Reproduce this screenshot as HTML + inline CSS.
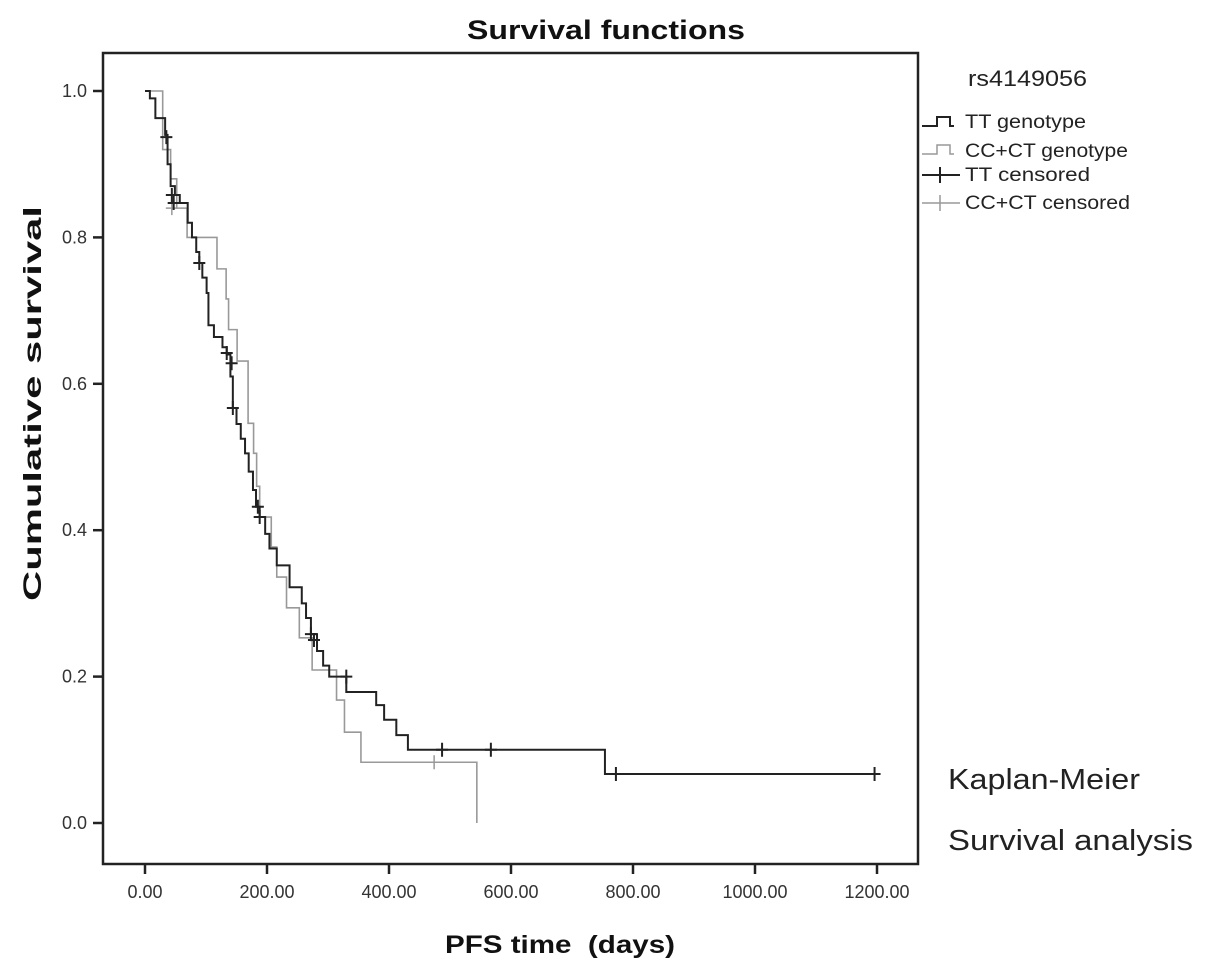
<!DOCTYPE html>
<html><head><meta charset="utf-8"><style>
body{margin:0;background:#fff;}
svg{display:block;font-family:"Liberation Sans",Arial,sans-serif;}
</style></head><body>
<svg id="chart" width="1205" height="969">
<text x="467" y="39" font-size="27" font-weight="bold" textLength="278" lengthAdjust="spacingAndGlyphs" fill="#111">Survival functions</text>
<rect x="103" y="53" width="815" height="811" fill="none" stroke="#222" stroke-width="2.5"/>
<g id="axes"></g>
<g id="series"></g>
<text x="0" y="0" font-size="25" font-weight="bold" fill="#111" textLength="395" lengthAdjust="spacingAndGlyphs" transform="translate(41 601) rotate(-90)">Cumulative survival</text>
<text x="445" y="953" font-size="25" font-weight="bold" fill="#111" textLength="230" lengthAdjust="spacingAndGlyphs" xml:space="preserve">PFS time  (days)</text>
<text x="968" y="86" font-size="22" fill="#222" textLength="119" lengthAdjust="spacingAndGlyphs">rs4149056</text>
<g><path d="M922 126 H937 V117 H950 V126 H954" fill="none" stroke="#222" stroke-width="2"/><text x="965" y="128" font-size="19" fill="#222" textLength="121" lengthAdjust="spacingAndGlyphs">TT genotype</text></g>
<g><path d="M922 154 H937 V145 H950 V154 H954" fill="none" stroke="#999" stroke-width="1.5"/><text x="965" y="157" font-size="19" fill="#222" textLength="163" lengthAdjust="spacingAndGlyphs">CC+CT genotype</text></g>
<g><path d="M922 175 H960 M940 167 V183" fill="none" stroke="#222" stroke-width="2"/><text x="965" y="181" font-size="19" fill="#222" textLength="125" lengthAdjust="spacingAndGlyphs">TT censored</text></g>
<g><path d="M922 203 H960 M940 195 V211" fill="none" stroke="#999" stroke-width="1.5"/><text x="965" y="209" font-size="19" fill="#222" textLength="165" lengthAdjust="spacingAndGlyphs">CC+CT censored</text></g>
<text x="948" y="789" font-size="29" fill="#222" textLength="192" lengthAdjust="spacingAndGlyphs">Kaplan-Meier</text>
<text x="948" y="850" font-size="29" fill="#222" textLength="245" lengthAdjust="spacingAndGlyphs">Survival analysis</text>
</svg>
<script>
const xTicks=[0,200,400,600,800,1000,1200];
const xTickLabels=["0.00","200.00","400.00","600.00","800.00","1000.00","1200.00"];
const yTicks=[0,0.2,0.4,0.6,0.8,1.0];
const yTickLabels=["0.0","0.2","0.4","0.6","0.8","1.0"];
const ttTimes=[0,8,17,33,37,42,49,57,70,77,84,89,94,101,104,113,127,134,140,144,150,157,164,170,177,182,188,197,204,216,237,257,264,272,282,292,302,330,379,392,412,431,754];
const ttSurv=[1.0,0.99,0.963,0.94,0.90,0.87,0.858,0.847,0.82,0.80,0.78,0.765,0.745,0.724,0.68,0.664,0.65,0.64,0.61,0.567,0.545,0.525,0.505,0.48,0.455,0.432,0.418,0.395,0.375,0.352,0.322,0.30,0.28,0.258,0.235,0.215,0.20,0.179,0.161,0.141,0.12,0.10,0.067];
const ttEnd=1196;
const ccTimes=[0,29,42,52,69,118,133,137,151,169,178,183,188,207,216,232,253,274,314,327,354,544];
const ccSurv=[1.0,0.92,0.88,0.84,0.80,0.757,0.716,0.674,0.631,0.546,0.505,0.46,0.418,0.377,0.336,0.294,0.253,0.209,0.168,0.124,0.083,0];
const ccEnd=544;
const ttCensTimes=[35,44,47,89,134,142,144,185,188,272,277,330,487,567,772,1196];
const ttCensSurv=[0.937,0.858,0.847,0.765,0.642,0.628,0.567,0.432,0.418,0.258,0.25,0.20,0.10,0.10,0.067,0.067];
const ccCensTimes=[44,474];
const ccCensSurv=[0.84,0.083];

const NS="http://www.w3.org/2000/svg";
const X=t=>145+t*0.61;
const Y=s=>823-s*732;
const axes=document.getElementById('axes');
const series=document.getElementById('series');
function mk(tag,attrs,parent){const e=document.createElementNS(NS,tag);for(const k in attrs)e.setAttribute(k,attrs[k]);parent.appendChild(e);return e;}
xTicks.forEach((v,i)=>{
  const l=mk('line',{x1:X(v),x2:X(v),y1:864,y2:874,stroke:'#222','stroke-width':2.5},axes);
  
  
  const t=mk('text',{x:X(v),y:898,'font-size':18,'text-anchor':'middle',fill:'#333'},axes);
  t.textContent=xTickLabels[i];
  
  
});
yTicks.forEach((v,i)=>{
  const l=mk('line',{x1:93,x2:103,y1:Y(v),y2:Y(v),stroke:'#222','stroke-width':2.5},axes);
  
  
  const t=mk('text',{x:87,y:Y(v)+6,'font-size':18,'text-anchor':'end',fill:'#333'},axes);
  t.textContent=yTickLabels[i];
  
  
});
function stepPath(times,surv,end){
  let d='M'+X(times[0])+' '+Y(surv[0]);
  for(let i=1;i<times.length;i++){d+=' H'+X(times[i])+' V'+Y(surv[i]);}
  d+=' H'+X(end);
  return d;
}
const cc=mk('path',{d:stepPath(ccTimes,ccSurv,ccEnd),fill:'none',stroke:'#999','stroke-width':1.6},series);


const tt=mk('path',{d:stepPath(ttTimes,ttSurv,ttEnd),fill:'none',stroke:'#222','stroke-width':2},series);


ccCensTimes.forEach((t,i)=>{
  const m=mk('path',{d:'M'+(X(t)-6)+' '+Y(ccCensSurv[i])+' h12 M'+X(t)+' '+(Y(ccCensSurv[i])-7)+' v14',stroke:'#999','stroke-width':1.5,fill:'none'},series);
  
  
});
ttCensTimes.forEach((t,i)=>{
  const m=mk('path',{d:'M'+(X(t)-6)+' '+Y(ttCensSurv[i])+' h12 M'+X(t)+' '+(Y(ttCensSurv[i])-7)+' v14',stroke:'#222','stroke-width':2,fill:'none'},series);
  
  
});
</script>
</body></html>
